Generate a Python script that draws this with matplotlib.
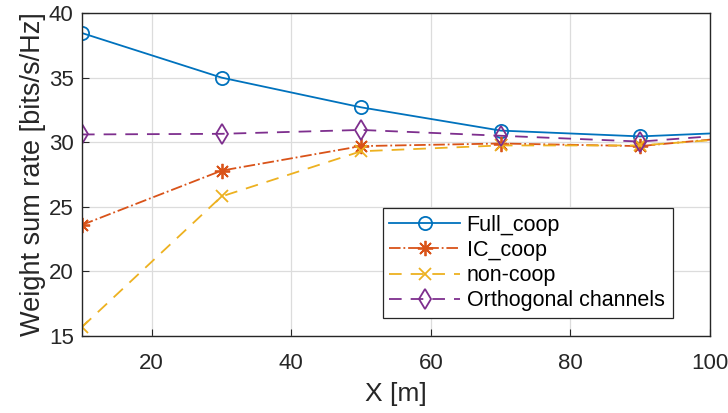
import matplotlib.pyplot as plt

plt.rcParams['font.family'] = ['Liberation Sans', 'DejaVu Sans']

# distances (last point lies beyond the axis limit, as in the original)
x_m = [10, 30, 50, 70, 90, 110]

full_coop = [38.45, 35.0, 32.7, 30.9, 30.45, 30.9]
ic_coop = [23.6, 27.8, 29.7, 29.9, 29.7, 30.7]
non_coop = [15.7, 25.8, 29.3, 29.75, 29.75, 30.55]
orthogonal = [30.6, 30.65, 30.95, 30.5, 30.05, 30.85]

labels = ["Full_coop", "IC_coop", "non-coop", "Orthogonal channels"]

fig = plt.figure(figsize=(7.28, 4.13), dpi=100)
ax = fig.add_axes([0.1126, 0.1864, 0.8626, 0.7821])

ax.plot(x_m, full_coop, '-', color='#0072BD', marker='o', mfc='none',
        ms=9.5, mew=1.3, lw=1.3, label=labels[0])
ax.plot(x_m, ic_coop, '-.', color='#D95319', marker=(8, 2, 0),
        ms=11, mew=1.3, lw=1.3, label=labels[1])
ax.plot(x_m, non_coop, '--', color='#EDB120', marker='x',
        ms=9, mew=1.3, lw=1.3, dashes=(7, 5), label=labels[2])
ax.plot(x_m, orthogonal, '--', color='#7E2F8E', marker='d', mfc='none',
        ms=10.5, mew=1.3, lw=1.3, dashes=(7, 5), label=labels[3])

ax.set_xlim(10, 100)
ax.set_ylim(15, 40)
ax.set_xticks([20, 40, 60, 80, 100])
ax.set_yticks([15, 20, 25, 30, 35, 40])
ax.grid(True, color='#dcdcdc', lw=0.9)
ax.set_axisbelow(True)
ax.tick_params(direction='in', labelsize=16, colors='#262626', length=5)
ax.tick_params(axis='x', pad=12)
ax.tick_params(axis='y', pad=6)
for s in ax.spines.values():
    s.set_color('#262626')
    s.set_linewidth(1.0)

ax.set_xlabel("X [m]", fontsize=19, color='#262626', labelpad=6)
ax.set_ylabel("Weight sum rate [bits/s/Hz]", fontsize=19.5, color='#262626', labelpad=2)

leg = ax.legend(loc='lower left', bbox_to_anchor=(0.479, 0.056, 0.462, 0.337),
                mode='expand', fontsize=15.5, fancybox=False, edgecolor='#262626',
                framealpha=1, handlelength=3.3, borderaxespad=0, borderpad=0.3,
                labelspacing=0.2, handletextpad=0.3)
leg.get_frame().set_linewidth(0.9)

plt.savefig("out.png", dpi=100)
